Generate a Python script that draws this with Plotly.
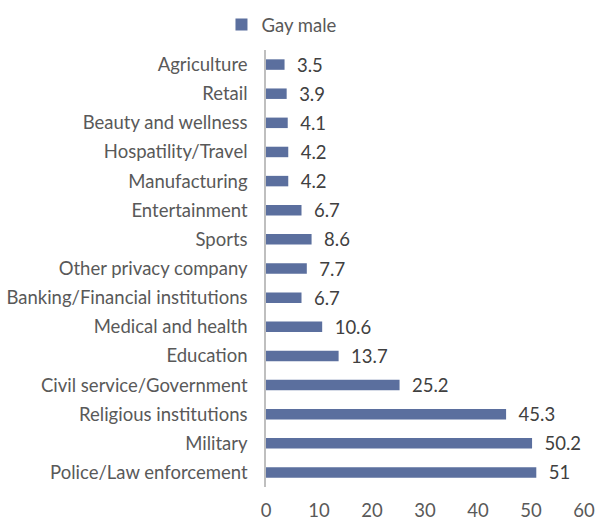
import plotly.graph_objects as go

categories = ["Agriculture", "Retail", "Beauty and wellness", "Hospatility/Travel",
              "Manufacturing", "Entertainment", "Sports", "Other privacy company",
              "Banking/Financial institutions", "Medical and health", "Education",
              "Civil service/Government", "Religious institutions", "Military",
              "Police/Law enforcement"]
values = [3.5, 3.9, 4.1, 4.2, 4.2, 6.7, 8.6, 7.7, 6.7, 10.6, 13.7, 25.2, 45.3, 50.2, 51]
series_name = "Gay male"
x_ticks = [0, 10, 20, 30, 40, 50, 60]

FONT = "Lato, Carlito, Calibri, sans-serif"
GRAY = "#595959"
FS = 18.5

fig = go.Figure(go.Bar(
    y=categories, x=values, orientation="h", name=series_name,
    marker=dict(color="#5B6F9E", line=dict(width=0)),
    width=0.36,
    texttemplate="\u00a0\u00a0%{x}", textposition="outside",
    constraintext="none",
    textfont=dict(family=FONT, size=FS, color="#404040"),
    cliponaxis=False, showlegend=True,
))

fig.update_layout(
    width=600, height=521,
    margin=dict(l=266, r=16, t=50, b=34, autoexpand=False),
    paper_bgcolor="white", plot_bgcolor="white",
    font=dict(family=FONT, size=FS, color=GRAY),
    bargap=0.64,
    showlegend=True,
    legend=dict(orientation="h", x=-0.14, xanchor="left", y=1.057, yanchor="middle",
                font=dict(family=FONT, size=FS, color=GRAY),
                itemwidth=30, bgcolor="rgba(0,0,0,0)"),
    xaxis=dict(range=[0, 60], tickvals=x_ticks, showgrid=False, zeroline=False,
               showline=False, ticks="", ticklabelstandoff=10, automargin=False,
               tickfont=dict(family=FONT, size=FS, color=GRAY)),
    yaxis=dict(autorange="reversed", showgrid=False, showline=True,
               linecolor="#BFBFBF", linewidth=1.5, ticks="",
               ticklabelstandoff=13, automargin=False,
               tickfont=dict(family=FONT, size=FS, color=GRAY)),
)

fig.write_html("out.html")
